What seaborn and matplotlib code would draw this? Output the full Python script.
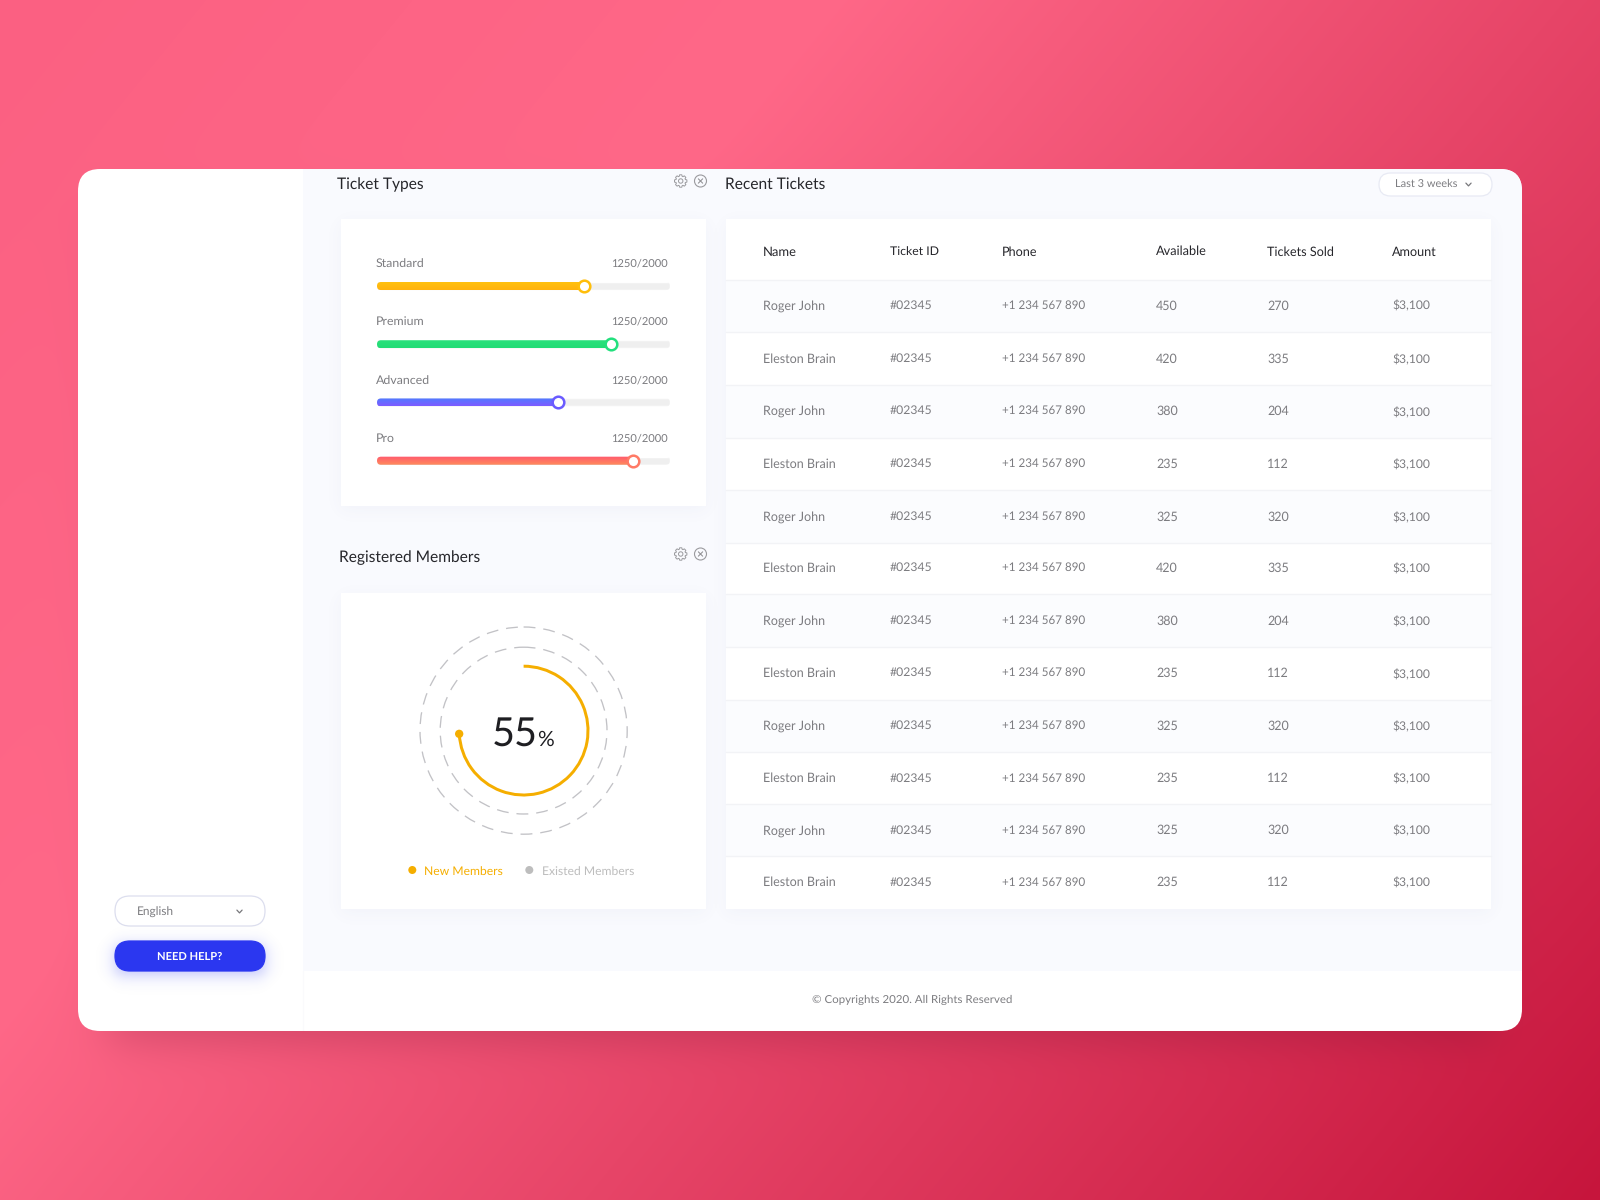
import numpy as np
import seaborn as sns
import matplotlib
matplotlib.use("Agg")
import matplotlib.pyplot as plt
from matplotlib.patches import FancyBboxPatch, Rectangle, Circle, Polygon
from matplotlib.transforms import IdentityTransform
from matplotlib.colors import to_rgb

# ---------- data ----------
ticket_types = ["Standard", "Premium", "Advanced", "Pro"]
ticket_fill = [70.6, 79.9, 61.8, 87.4]
ticket_counts = ["1250/2000", "1250/2000", "1250/2000", "1250/2000"]
track_full = [100, 100, 100, 100]
grad_top = ["#FFC20E", "#2BE27C", "#4C7EFF", "#FF5A6E"]
grad_bottom = ["#FFB30F", "#22DC76", "#7C5CFF", "#FF8A5C"]
thumb_edges = ["#FFBE0B", "#22E07D", "#6A5BFF", "#FF7A66"]

member_label = "55"
member_arc = [74.2, 25.8]
legend_labels = ["New Members", "Existed Members"]
legend_colors = ["#F5AE00", "#BDBDBD"]

columns = ["Name", "Ticket ID", "Phone", "Available", "Tickets Sold", "Amount"]
names = ["Roger John", "Eleston Brain"] * 6
ticket_ids = ["#02345"] * 12
phones = ["+1 234 567 890"] * 12
available = [450, 420, 380, 235, 325, 420, 380, 235, 325, 235, 325, 235]
sold = [270, 335, 204, 112, 320, 335, 204, 112, 320, 112, 320, 112]
amounts = ["$3,100"] * 12

# ---------- layout ----------
W, H = 1600, 1200
sns.set_theme(style="white")
plt.rcParams["font.family"] = ["Lato", "DejaVu Sans"]
plt.rcParams["text.hinting"] = "no_hinting"
fig = plt.figure(figsize=(16, 12), dpi=100)
root = fig.add_axes([0, 0, 1, 1], zorder=0)


def px_axes(x0, y0, x1, y1, z=2):
    a = fig.add_axes([x0 / W, 1 - y1 / H, (x1 - x0) / W, (y1 - y0) / H], zorder=z)
    a.patch.set_alpha(0)
    return a


def soft(v, a, b, s):
    return 0.5 * (np.tanh((v - a) / s) - np.tanh((v - b) / s))


# background gradient with the main card's shadow
xx, yy = np.meshgrid(np.arange(W) + .5, np.arange(H) + .5)
t = 0.62 * xx / W + 0.38 * yy / H
stops = [0, .32, 1]
cols = np.array([to_rgb("#FB6082"), to_rgb("#FF6888"), to_rgb("#C6153C")])
bg = np.dstack([np.interp(t, stops, cols[:, i]) for i in range(3)])
sh = 0.22 * soft(xx, 110, 1495, 28)[..., None] * soft(yy, 210, 1045, 22)[..., None]
bg = bg * (1 - sh) + np.array(to_rgb("#6E1030")) * sh
root.imshow(bg, extent=(0, W, H, 0), aspect="auto", zorder=0, interpolation="nearest")


def card_shadow(x0, y0, x1, y1, alpha=0.05, s=10, col="#5A64A0", z=3, pad=40):
    ex = (x0 - pad, x1 + pad, y1 + pad, y0 - pad)
    xs = np.arange(x0 - pad, x1 + pad) + .5
    ys = np.arange(y0 - pad, y1 + pad) + .5
    gx, gy = np.meshgrid(xs, ys)
    a = alpha * soft(gx, x0, x1, s) * soft(gy, y0 + 4, y1 + 4, s)
    rgba = np.zeros(a.shape + (4,))
    rgba[..., :3] = to_rgb(col)
    rgba[..., 3] = a
    root.imshow(rgba, extent=ex, aspect="auto", zorder=z)


# main card
card = FancyBboxPatch((78, 169), 1444, 862, boxstyle="round,pad=0,rounding_size=22",
                      fc="white", ec="none", zorder=1)
root.add_patch(card)
content = Rectangle((303, 169), 1220, 802, fc="#F9FAFE", ec="none", zorder=2)
root.add_patch(content)
content.set_clip_path(card)
root.plot([303, 303], [971, 1030], color="#FAFAFC", lw=0.8, zorder=2)


def white_card(x0, y0, x1, y1):
    card_shadow(x0, y0, x1, y1)
    root.add_patch(Rectangle((x0, y0), x1 - x0, y1 - y0, fc="white", ec="none", zorder=4))


white_card(341, 219, 706, 506)
white_card(341, 593, 706, 909)
white_card(726, 219, 1491, 909)

DARK = "#26262B"
GREY = "#7C7C80"
title_fs = 11.2
body_fs = 9.0


def txt(x, y, s, color=GREY, fs=body_fs, ha="left", va="center", **kw):
    root.text(x, y, s, color=color, fontsize=fs, ha=ha, va=va, zorder=6, **kw)


txt(337, 184.5, "Ticket Types", DARK, title_fs)
txt(339, 557.5, "Registered Members", DARK, title_fs)
txt(725, 184.5, "Recent Tickets", DARK, title_fs)


def gear(cx, cy):
    pts = []
    for k in range(8):
        c = k * np.pi / 4
        for da, r in [(-.30, 4.9), (-.18, 6.3), (.18, 6.3), (.30, 4.9)]:
            pts.append((cx + r * np.cos(c + da), cy + r * np.sin(c + da)))
    root.add_patch(Polygon(pts, closed=True, fc="none", ec="#9A9A9E", lw=0.7, zorder=6))
    root.add_patch(Circle((cx, cy), 2.2, fc="none", ec="#9A9A9E", lw=0.7, zorder=6))


def close_icon(cx, cy):
    root.add_patch(Circle((cx, cy), 6, fc="none", ec="#9A9A9E", lw=0.8, zorder=6))
    for s in (1, -1):
        root.plot([cx - 2.2, cx + 2.2], [cy - 2.2 * s, cy + 2.2 * s], color="#8A8A8E", lw=0.7, zorder=6)


for iy in (181, 554):
    gear(680.7, iy)
    close_icon(700.5, iy)


def chevron(cx, cy):
    root.plot([cx - 2.6, cx, cx + 2.6], [cy - 1.4, cy + 1.4, cy - 1.4], color="#77777B", lw=0.9, zorder=6)


def pill(x0, y0, x1, y1, fc="white", ec="#E8EAF4"):
    h = y1 - y0
    root.add_patch(FancyBboxPatch((x0, y0), x1 - x0, h, boxstyle=f"round,pad=0,rounding_size={h/2}",
                                  fc=fc, ec=ec, lw=0.9, zorder=5))


# dropdown
pill(1379, 173, 1492, 196)
txt(1395, 184, "Last 3 weeks", GREY, 7.9)
chevron(1468.5, 184.5)

# sidebar controls
pill(115, 896, 265, 926, ec="#DCDEEE")
txt(136.5, 912, "English", GREY, 8.6)
chevron(239.5, 911.5)
card_shadow(115, 941, 265, 971, alpha=.32, s=9, col="#3440F0", z=3, pad=25)
pill(115, 941, 265, 971, fc="#2B37F0", ec="#2B37F0")
txt(190, 956.5, "NEED HELP?", "white", 8.0, ha="center", fontweight="bold")

# footer
txt(912, 1000, "\u00a9 Copyrights 2020. All Rights Reserved", GREY, 8.25, ha="center")

# ---------- ticket type sliders ----------
row_idx = np.arange(len(ticket_types))
label_y = [263.5, 321.5, 380.5, 438.5]
for yy_, lab, cnt in zip(label_y, ticket_types, ticket_counts):
    txt(375.5, yy_, lab, GREY, 8.9)
    txt(668, yy_, cnt, GREY, 8.0, ha="right")

bar_h = 8 / 58.2
sl = px_axes(377, 256.9, 670, 489.8)
sns.barplot(x=track_full, y=row_idx, orient="h", color="#EFEFEF", width=bar_h, ax=sl, saturation=1)
sns.barplot(x=ticket_fill, y=row_idx, orient="h", color="#CCCCCC", width=bar_h, ax=sl, saturation=1)
sl.set_xlim(0, 100)
sl.set_ylim(3.5, -0.5)
sl.axis("off")
fig.canvas.draw()
n = len(ticket_types)
bars = list(sl.patches)
for i, b in enumerate(bars):
    (dx0, dy0), (dx1, dy1) = sl.transData.transform([(b.get_x(), b.get_y()), (b.get_x() + b.get_width(), b.get_y() + b.get_height())])
    bx0, bx1, by0, by1 = min(dx0, dx1), max(dx0, dx1), min(dy0, dy1), max(dy0, dy1)
    rounded = FancyBboxPatch((bx0, by0), bx1 - bx0, by1 - by0,
                             boxstyle=f"round,pad=0,rounding_size={(by1-by0)/2}",
                             transform=IdentityTransform())
    b.set_clip_path(rounded)
    if i >= n:
        k = i - n
        g = np.linspace(0, 1, 16)[:, None, None]
        img = (1 - g) * np.array(to_rgb(grad_top[k])) + g * np.array(to_rgb(grad_bottom[k]))
        im = sl.imshow(img, extent=(b.get_x(), b.get_x() + b.get_width(),
                                    b.get_y() + b.get_height(), b.get_y()),
                       aspect="auto", zorder=3, interpolation="bilinear")
        im.set_clip_path(rounded)
sl.set_xlim(0, 100)
sl.set_ylim(3.5, -0.5)
for k in row_idx:
    sns.scatterplot(x=[ticket_fill[k]], y=[k], s=70, color="white", edgecolor=thumb_edges[k],
                    linewidth=1.8, ax=sl, zorder=5, legend=False, clip_on=False)
sl.set_xlim(0, 100)
sl.set_ylim(3.5, -0.5)
sl.axis("off")

# ---------- registered members ring ----------
cx, cy = 523.6, 730.6
for r in (103.6, 83.4):
    root.add_patch(Circle((cx, cy), r, fc="none", ec="#C2C2C6", lw=0.95, ls=(0, (9, 6)), zorder=5))

ring = px_axes(cx - 72, cy - 72, cx + 72, cy + 72)
ring.pie(member_arc, startangle=90, counterclock=False, radius=65.9,
         colors=[legend_colors[0], "none"], wedgeprops=dict(width=3.0, linewidth=0))
end = np.deg2rad(90 - member_arc[0] / sum(member_arc) * 360)
sns.scatterplot(x=[64.5 * np.cos(end)], y=[64.5 * np.sin(end)], s=36, color=legend_colors[0],
                edgecolor="none", ax=ring, legend=False, zorder=4)
ring.set_xlim(-72, 72)
ring.set_ylim(-72, 72)
ring.set_aspect("equal")
ring.axis("off")

root.text(491.5, 746, member_label, color="#1E1E22", fontsize=28.5, ha="left", va="baseline", zorder=6)
root.text(537.5, 746, "%", color="#1E1E22", fontsize=15, ha="left", va="baseline", zorder=6)

for dx, tx, lab, c in zip((412.3, 529.3), (424.5, 542), legend_labels, legend_colors):
    root.add_patch(Circle((dx, 870), 4, fc=c, ec="none", zorder=6))
    txt(tx, 871.5, lab, c, 8.7)

# ---------- table ----------
col_x = [763, 890, 1001.5, 1156, 1267, 1392]
head_y = [252, 252, 252, 251, 252, 252]
head_fs = [9.4, 8.8, 9.1, 9.2, 9.1, 9.1]
for x_, y_, c, f_ in zip(col_x, head_y, columns, head_fs):
    txt(x_, y_, c, DARK, f_)

row_edges = [279.6, 331.6, 384.7, 437.7, 489.8, 542.9, 593.9, 646.9, 700, 752, 804, 856, 908.5]
text_y = [306, 359, 411, 464, 517, 568, 621, 673, 726, 778.5, 830.6, 882.6]
amount_y = [306, 360, 412.5, 465, 517.5, 569, 621.5, 674.5, 727, 779, 831, 883]
for i in range(12):
    if i % 2 == 0:
        root.add_patch(Rectangle((726, row_edges[i]), 765, row_edges[i + 1] - row_edges[i],
                                 fc="#FBFCFE", ec="none", zorder=4.5))
for e in row_edges[:-1]:
    root.plot([726, 1491], [e, e], color="#F2F3F6", lw=1, zorder=4.6)
for i in range(12):
    y_ = text_y[i]
    txt(col_x[0], y_, names[i])
    txt(col_x[1], y_, ticket_ids[i], fs=8.8)
    txt(col_x[2], y_, phones[i], fs=8.4)
    txt(col_x[3], y_, str(available[i]))
    txt(col_x[4], y_, str(sold[i]))
    txt(col_x[5], amount_y[i], amounts[i], fs=8.7)

root.set_xlim(0, W)
root.set_ylim(H, 0)
root.axis("off")
fig.savefig("out.png", dpi=100)
